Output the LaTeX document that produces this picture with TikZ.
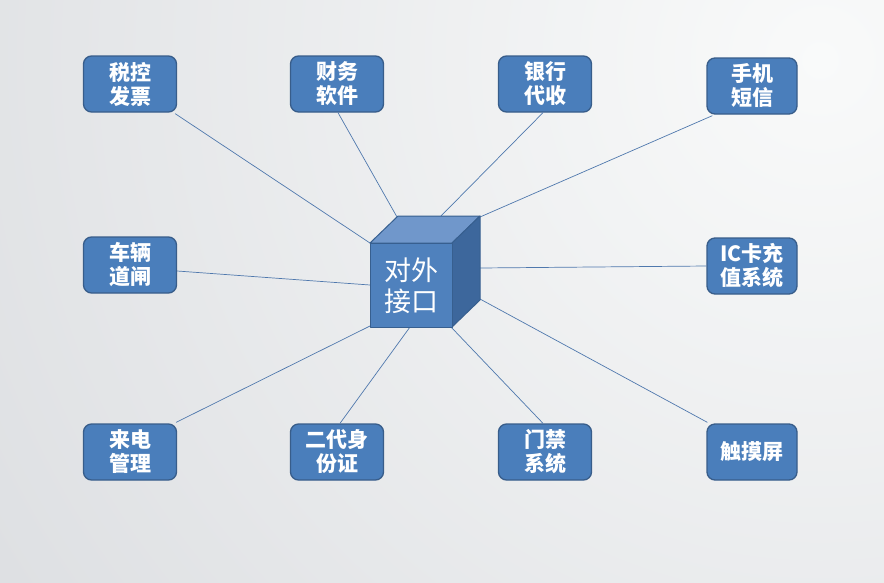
\documentclass[tikz,border=0pt]{standalone}
\usepackage{fontspec}
\setmainfont{Noto Sans CJK SC}
\newfontfamily\cjk{Noto Sans CJK SC}
\begin{document}
\begin{tikzpicture}[x=1pt,y=-1pt,
  box/.style={draw=boxline, line width=1.3pt, fill=boxfill, rounded corners=8pt,
    minimum width=93pt, minimum height=56pt, inner sep=0pt, align=center,
    text=white, font=\cjk\bfseries\fontsize{21}{24}\selectfont},
  link/.style={draw=linkcol, line width=0.7pt},
  cubeface/.style={draw=cubeline, line width=1pt, line join=round}]
\definecolor{boxfill}{HTML}{4A7EBB}
\definecolor{boxline}{HTML}{385D8A}
\definecolor{linkcol}{HTML}{4F78AD}
\definecolor{bgA}{HTML}{DDDFE2}
\definecolor{bgB}{HTML}{F9FAFA}
\definecolor{cubefront}{HTML}{4F81BD}
\definecolor{cubetop}{HTML}{7097CB}
\definecolor{cuberight}{HTML}{3D679C}
\definecolor{cubeline}{HTML}{375F8F}
\useasboundingbox (0,0) rectangle (884,582);
\begin{scope}
\clip (0,0) rectangle (884,582);
\shade[inner color=bgB, outer color=bgA] (820,60) circle (1000);
\end{scope}

% cube anchor points
\coordinate (ftl) at (370,243);
\coordinate (fbl) at (370,326);
\coordinate (tbl) at (397,217);
\coordinate (tbm) at (440,217);
\coordinate (tbr) at (480,217);
\coordinate (fl) at (370,285);
\coordinate (rr) at (480,268);
\coordinate (rb) at (480,299);
\coordinate (fbm) at (410,327);
\coordinate (fbr) at (451,327);

\node[box] (b1) at (130,84) {税控\\发票};
\node[box] (b2) at (337,84) {财务\\软件};
\node[box] (b3) at (545,84) {银行\\代收};
\node[box, minimum width=90pt] (b4) at (752,86) {手机\\短信};
\node[box] (b5) at (130,265) {车辆\\道闸};
\node[box, minimum width=90pt] (b6) at (752,266) {IC卡充\\值系统};
\node[box] (b7) at (130,452) {来电\\管理};
\node[box] (b8) at (337,452) {二代身\\份证};
\node[box] (b9) at (545,452) {门禁\\系统};
\node[box, minimum width=90pt] (b10) at (752,452) {触摸屏};

\draw[link] ([xshift=-2pt,yshift=-1pt]b1.south east) -- (ftl);
\draw[link] ([xshift=1pt]b2.south) -- (tbl);
\draw[link] ([xshift=-2pt]b3.south) -- (tbm);
\draw[link] ([xshift=6pt,yshift=-1pt]b4.south west) -- (tbr);
\draw[link] ([yshift=-6pt]b5.east) -- (fl);
\draw[link] (b6.west) -- (rr);
\draw[link] ([xshift=-1pt,yshift=1pt]b7.north east) -- (fbl);
\draw[link] ([xshift=3pt]b8.north) -- (fbm);
\draw[link] ([xshift=-2pt]b9.north) -- (fbr);
\draw[link] ([xshift=1pt,yshift=1pt]b10.north west) -- (rb);

% cube
\filldraw[cubeface, fill=cubetop]
  (370,243) -- (398,216) -- (480,216) -- (452,243) -- cycle;
\filldraw[cubeface, fill=cuberight]
  (452,243) -- (480,216) -- (480,300) -- (452,327) -- cycle;
\filldraw[cubeface, fill=cubefront]
  (370,243) rectangle (452,327);
\node[text=white, align=center, font=\cjk\fontsize{27}{31}\selectfont, inner sep=0pt]
  (cube) at (411,286) {对外\\接口};
\end{tikzpicture}
\end{document}
